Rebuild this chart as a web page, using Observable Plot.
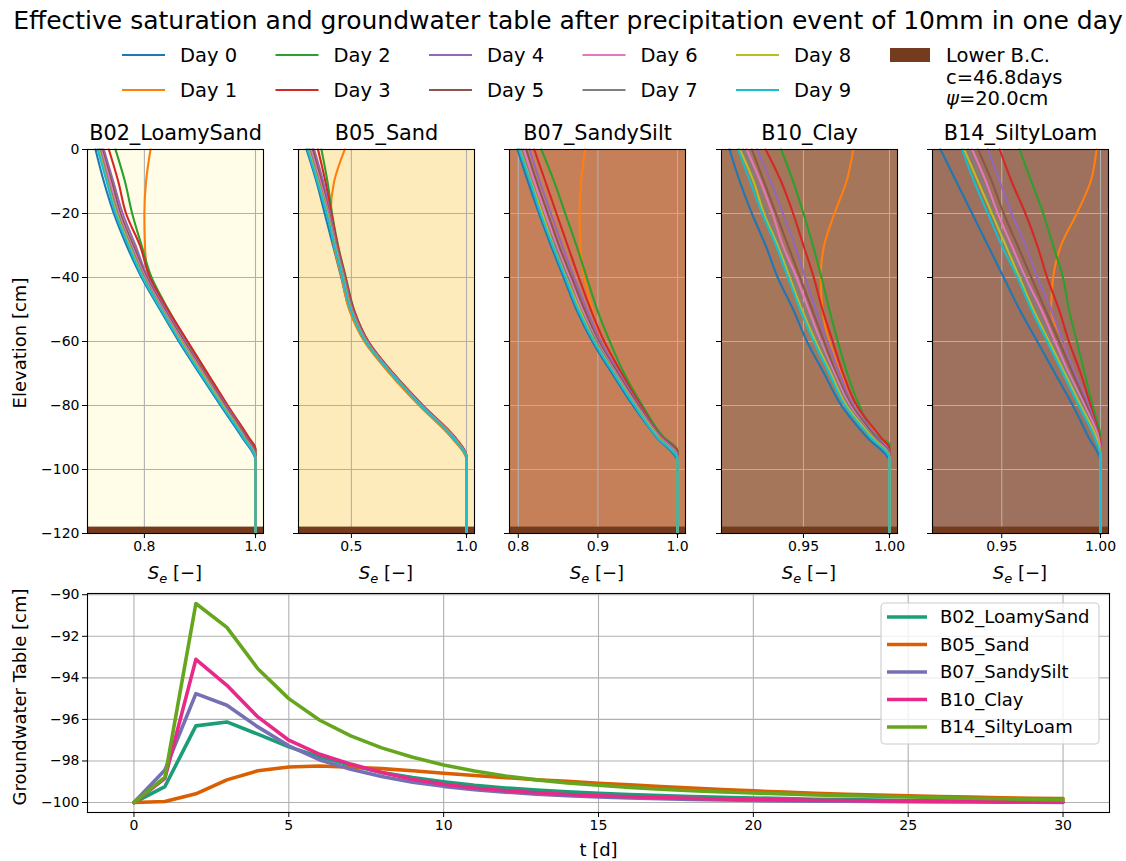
<!DOCTYPE html>
<html>
<head>
<meta charset="utf-8">
<script src="https://cdn.jsdelivr.net/npm/d3@7"></script>
<script src="https://cdn.jsdelivr.net/npm/@observablehq/plot@0.6"></script>
<style>
  body { margin: 0; background: #ffffff; }
  #chart { position: relative; width: 1126px; height: 861px; overflow: hidden; background: #ffffff; font-family: "DejaVu Sans", sans-serif; }
  #chart svg { position: absolute; overflow: visible; }
</style>
</head>
<body>
<div id="chart"></div>
<script>
// ---------- data ----------
const days = ["Day 0", "Day 1", "Day 2", "Day 3", "Day 4", "Day 5", "Day 6", "Day 7", "Day 8", "Day 9"];
const dayColors = ["#1f77b4", "#ff7f0e", "#2ca02c", "#d62728", "#9467bd", "#8c564b", "#e377c2", "#7f7f7f", "#bcbd22", "#17becf"];

const soils = ["B02_LoamySand", "B05_Sand", "B07_SandySilt", "B10_Clay", "B14_SiltyLoam"];
const soilFill = ["#fffde7", "#feebbb", "#c58059", "#a6765b", "#9d715d"];
const soilLine = ["#1b9e77", "#d95f02", "#7570b3", "#e7298a", "#66a61e"];

// elevations [cm] at which the effective saturation is tabulated
const levels = [0, -10, -20, -30, -40, -50, -60, -70, -80, -90];
const bottomElev = -120;
const lowerBC = [-120, -118];
const bcColor = "#743b1e";
const bcText = ["Lower B.C.", "c=46.8days", "=20.0cm"];

// Se per day (rows) at each level (columns); sat = elevation where Se reaches 1
const seB02 = [
  [0.712, 0.727, 0.745, 0.768, 0.795, 0.828, 0.862, 0.899, 0.937, 0.976],
  [0.811, 0.803, 0.800, 0.801, 0.807, 0.840, 0.875, 0.912, 0.948, 0.986],
  [0.748, 0.765, 0.778, 0.795, 0.813, 0.843, 0.877, 0.913, 0.949, 0.987],
  [0.736, 0.753, 0.767, 0.792, 0.810, 0.842, 0.878, 0.914, 0.950, 0.988],
  [0.727, 0.744, 0.761, 0.784, 0.806, 0.838, 0.873, 0.909, 0.947, 0.984],
  [0.724, 0.741, 0.757, 0.780, 0.804, 0.836, 0.871, 0.908, 0.945, 0.983],
  [0.722, 0.738, 0.754, 0.777, 0.802, 0.834, 0.869, 0.906, 0.943, 0.981],
  [0.720, 0.735, 0.752, 0.775, 0.800, 0.832, 0.867, 0.904, 0.942, 0.980],
  [0.718, 0.733, 0.750, 0.773, 0.798, 0.831, 0.866, 0.903, 0.941, 0.979],
  [0.716, 0.732, 0.748, 0.771, 0.797, 0.830, 0.864, 0.901, 0.939, 0.978]
];
const satB02 = [-97.2, -96.0, -93.8, -93.5, -95.3, -95.7, -96.0, -96.3, -96.5, -96.7];

const seB05 = [
  [0.305, 0.348, 0.384, 0.420, 0.456, 0.492, 0.558, 0.669, 0.797, 0.936],
  [0.471, 0.425, 0.410, 0.424, 0.458, 0.490, 0.556, 0.666, 0.794, 0.935],
  [0.370, 0.396, 0.416, 0.442, 0.476, 0.511, 0.573, 0.680, 0.808, 0.948],
  [0.355, 0.387, 0.413, 0.440, 0.474, 0.510, 0.574, 0.683, 0.811, 0.951],
  [0.338, 0.377, 0.407, 0.436, 0.471, 0.506, 0.571, 0.680, 0.808, 0.948],
  [0.331, 0.370, 0.404, 0.434, 0.469, 0.504, 0.569, 0.679, 0.807, 0.946],
  [0.324, 0.364, 0.401, 0.432, 0.467, 0.502, 0.567, 0.677, 0.805, 0.945],
  [0.318, 0.359, 0.398, 0.430, 0.465, 0.500, 0.565, 0.676, 0.804, 0.943],
  [0.313, 0.355, 0.395, 0.428, 0.463, 0.498, 0.563, 0.674, 0.802, 0.942],
  [0.309, 0.352, 0.392, 0.426, 0.461, 0.496, 0.561, 0.673, 0.801, 0.940]
];
const satB05 = [-96.8, -97.0, -96.0, -95.8, -96.0, -96.1, -96.2, -96.3, -96.4, -96.5];

const seB07 = [
  [0.799, 0.812, 0.826, 0.841, 0.857, 0.873, 0.893, 0.918, 0.944, 0.974],
  [0.884, 0.879, 0.877, 0.878, 0.883, 0.893, 0.905, 0.928, 0.953, 0.980],
  [0.829, 0.845, 0.859, 0.873, 0.886, 0.899, 0.915, 0.933, 0.956, 0.983],
  [0.820, 0.834, 0.848, 0.862, 0.876, 0.891, 0.908, 0.930, 0.954, 0.981],
  [0.814, 0.827, 0.841, 0.855, 0.870, 0.886, 0.904, 0.927, 0.952, 0.980],
  [0.810, 0.823, 0.837, 0.851, 0.867, 0.883, 0.901, 0.925, 0.951, 0.979],
  [0.807, 0.820, 0.834, 0.848, 0.864, 0.880, 0.899, 0.923, 0.949, 0.978],
  [0.804, 0.817, 0.831, 0.846, 0.862, 0.878, 0.898, 0.922, 0.948, 0.977],
  [0.802, 0.816, 0.830, 0.844, 0.860, 0.877, 0.896, 0.921, 0.947, 0.976],
  [0.801, 0.815, 0.828, 0.843, 0.859, 0.875, 0.895, 0.920, 0.946, 0.975]
];
const satB07 = [-97.5, -95.5, -94.0, -94.6, -95.2, -95.6, -96.0, -96.3, -96.6, -96.8];

const seB10 = [
  [0.907, 0.913, 0.920, 0.928, 0.935, 0.944, 0.952, 0.962, 0.972, 0.987],
  [0.979, 0.975, 0.968, 0.962, 0.960, 0.961, 0.965, 0.972, 0.979, 0.994],
  [0.937, 0.944, 0.950, 0.9555, 0.9605, 0.965, 0.970, 0.9755, 0.9825, 0.9935],
  [0.928, 0.937, 0.944, 0.950, 0.956, 0.961, 0.967, 0.973, 0.981, 0.995],
  [0.923, 0.931, 0.938, 0.945, 0.951, 0.957, 0.964, 0.971, 0.979, 0.993],
  [0.920, 0.927, 0.934, 0.941, 0.948, 0.955, 0.962, 0.969, 0.978, 0.992],
  [0.917, 0.925, 0.932, 0.938, 0.946, 0.953, 0.960, 0.968, 0.977, 0.991],
  [0.915, 0.923, 0.929, 0.936, 0.944, 0.951, 0.959, 0.967, 0.976, 0.991],
  [0.913, 0.921, 0.927, 0.935, 0.942, 0.949, 0.957, 0.966, 0.975, 0.990],
  [0.912, 0.919, 0.926, 0.934, 0.941, 0.948, 0.956, 0.965, 0.974, 0.989]
];
const satB10 = [-97.5, -95.0, -92.0, -93.5, -94.8, -95.3, -95.7, -96.0, -96.3, -96.5];

const seB14 = [
  [0.919, 0.927, 0.935, 0.943, 0.951, 0.959, 0.968, 0.977, 0.986, 0.994],
  [0.998, 0.995, 0.988, 0.980, 0.976, 0.975, 0.981, 0.987, 0.994, 0.999],
  [0.959, 0.965, 0.971, 0.976, 0.981, 0.984, 0.988, 0.992, 0.996, 1.000],
  [0.949, 0.955, 0.962, 0.968, 0.973, 0.979, 0.984, 0.990, 0.995, 0.9995],
  [0.943, 0.949, 0.955, 0.962, 0.968, 0.975, 0.981, 0.987, 0.994, 0.999],
  [0.938, 0.945, 0.951, 0.958, 0.965, 0.972, 0.979, 0.986, 0.993, 0.999],
  [0.935, 0.942, 0.948, 0.955, 0.962, 0.970, 0.977, 0.984, 0.992, 0.999],
  [0.933, 0.940, 0.946, 0.953, 0.961, 0.968, 0.975, 0.983, 0.991, 0.998],
  [0.931, 0.938, 0.945, 0.952, 0.959, 0.966, 0.974, 0.982, 0.990, 0.998],
  [0.930, 0.936, 0.943, 0.950, 0.958, 0.965, 0.973, 0.981, 0.989, 0.997]
];
const satB14 = [-97.5, -95.0, -90.0, -92.0, -93.5, -94.5, -95.0, -95.5, -95.8, -96.0];

const seSets = [seB02, seB05, seB07, seB10, seB14];
const satSets = [satB02, satB05, satB07, satB10, satB14];

const xTicks = [[0.8, 1.0], [0.5, 1.0], [0.8, 0.9, 1.0], [0.95, 1.0], [0.95, 1.0]];
const xTickLabels = [["0.8", "1.0"], ["0.5", "1.0"], ["0.8", "0.9", "1.0"], ["0.95", "1.00"], ["0.95", "1.00"]];
const elevTicks = [0, -20, -40, -60, -80, -100, -120];

// groundwater table [cm] per day
const tDays = [0, 1, 2, 3, 4, 5, 6, 7, 8, 9, 10, 11, 12, 13, 14, 15, 16, 17, 18, 19, 20, 21, 22, 23, 24, 25, 26, 27, 28, 29, 30];
const gwB02 = [-100, -99.23, -96.31, -96.12, -96.71, -97.32, -97.80, -98.20, -98.55, -98.80, -99.00, -99.17, -99.30, -99.40, -99.48, -99.55, -99.61, -99.66, -99.71, -99.75, -99.78, -99.81, -99.84, -99.86, -99.88, -99.90, -99.92, -99.93, -99.94, -99.95, -99.96];
const gwB05 = [-100, -99.95, -99.58, -98.91, -98.47, -98.29, -98.24, -98.30, -98.37, -98.47, -98.59, -98.70, -98.80, -98.90, -98.98, -99.07, -99.15, -99.23, -99.30, -99.37, -99.44, -99.50, -99.55, -99.60, -99.64, -99.68, -99.71, -99.74, -99.77, -99.79, -99.81];
const gwB07 = [-100, -98.43, -94.76, -95.32, -96.36, -97.27, -97.95, -98.40, -98.75, -99.02, -99.22, -99.38, -99.50, -99.60, -99.67, -99.73, -99.78, -99.82, -99.85, -99.88, -99.90, -99.92, -99.93, -99.94, -99.95, -99.96, -99.97, -99.97, -99.98, -99.98, -99.99];
const gwB10 = [-100, -98.83, -93.11, -94.36, -95.88, -97.00, -97.68, -98.15, -98.55, -98.88, -99.12, -99.30, -99.43, -99.53, -99.61, -99.67, -99.72, -99.76, -99.80, -99.83, -99.85, -99.87, -99.89, -99.90, -99.92, -99.93, -99.94, -99.95, -99.96, -99.96, -99.97];
const gwB14 = [-100, -98.78, -90.42, -91.57, -93.56, -95.00, -96.04, -96.79, -97.37, -97.82, -98.19, -98.48, -98.72, -98.91, -99.06, -99.17, -99.27, -99.36, -99.43, -99.49, -99.54, -99.59, -99.63, -99.67, -99.70, -99.73, -99.76, -99.79, -99.82, -99.85, -99.87];
const gwSets = [gwB02, gwB05, gwB07, gwB10, gwB14];
const tTicks = [0, 5, 10, 15, 20, 25, 30];
const gwTicks = [-100, -98, -96, -94, -92, -90];

// ---------- layout ----------
const chart = document.getElementById("chart");
const font = "DejaVu Sans, sans-serif";
const baseStyle = { fontFamily: font, fontSize: "14px", color: "black", background: "transparent", overflow: "visible" };
const gridStyle = { stroke: "#b0b0b0", strokeOpacity: 1, strokeWidth: 1.1 };

// rotated axis title drawn into an svg
function sideLabel(svg, text, x, y) {
  d3.select(svg).append("text")
    .attr("transform", `translate(${x},${y}) rotate(-90)`)
    .attr("text-anchor", "middle").attr("dy", "0.36em")
    .attr("font-family", font).attr("font-size", 18).attr("fill", "black")
    .text(text);
}

const panelLeft = [87, 298, 509, 721, 932];
const frameW = 176, frameH = 384, panelTop = 110, mT = 39, mB = 57;

soils.forEach((soil, k) => {
  const se = seSets[k], sat = satSets[k];
  const rows = [];
  days.forEach((day, d) => {
    levels.forEach((z, j) => { if (z > sat[d]) rows.push({ day, se: se[d][j], elev: z }); });
    rows.push({ day, se: 1, elev: sat[d] });
    rows.push({ day, se: 1, elev: bottomElev });
  });
  const lo = d3.min(rows, r => r.se), hi = d3.max(rows, r => r.se), pad = (hi - lo) * 0.05;
  const labelMap = new Map(xTicks[k].map((v, i) => [v, xTickLabels[k][i]]));
  const mL = k === 0 ? 87 : 30, mR = 10;
  const first = k === 0;

  const plot = Plot.plot({
    width: mL + frameW + mR, height: mT + frameH + mB,
    marginLeft: mL, marginRight: mR, marginTop: mT, marginBottom: mB,
    x: { domain: [lo - pad, hi + pad] },
    y: { domain: [bottomElev, 0] },
    color: { domain: days, range: dayColors },
    style: baseStyle,
    marks: [
      Plot.frame({ fill: soilFill[k], stroke: "none" }),
      Plot.gridX({ ticks: xTicks[k], ...gridStyle }),
      Plot.gridY({ ticks: elevTicks, ...gridStyle }),
      Plot.rect([lowerBC], { x1: lo - pad, x2: hi + pad, y1: d => d[0], y2: d => d[1], fill: bcColor }),
      Plot.line(rows, { x: "se", y: "elev", z: "day", stroke: "day", strokeWidth: 2.1, curve: "monotone-y" }),
      Plot.frame({ stroke: "black", strokeWidth: 1.1 }),
      Plot.axisX({ ticks: xTicks[k], tickFormat: v => labelMap.get(v), tickSize: 5, tickPadding: 3, label: null }),
      first
        ? Plot.axisY({ ticks: elevTicks, tickSize: 5, tickPadding: 3, label: null })
        : Plot.axisY({ ticks: elevTicks, tickSize: 5, label: null, fill: "none" }),
      Plot.text([soil], { frameAnchor: "top", lineAnchor: "middle", dy: -16, text: d => d, fontSize: 20.8 })
    ]
  });
  plot.style.left = (panelLeft[k] - mL) + "px";
  plot.style.top = panelTop + "px";
  if (first) sideLabel(plot, "Elevation [cm]", 20, 343 - panelTop);
  // x label: S_e [−]
  const lab = d3.select(plot).append("text")
    .attr("x", mL + frameW / 2).attr("y", mT + frameH + 46)
    .attr("text-anchor", "middle").attr("font-size", 18).attr("font-family", font).attr("fill", "black");
  lab.append("tspan").attr("font-style", "italic").text("S");
  lab.append("tspan").attr("font-size", 13).attr("font-style", "italic").attr("dy", 4).text("e");
  lab.append("tspan").attr("dy", -4).text(" [\u2212]");
  chart.appendChild(plot);
});

// ---------- groundwater table over time ----------
const gwRows = [];
soils.forEach((s, k) => tDays.forEach((t, i) => gwRows.push({ soil: s, t, gw: gwSets[k][i] })));
const tLo = d3.min(tDays), tHi = d3.max(tDays), tPad = (tHi - tLo) * 0.05;
const gLo = d3.min(gwRows, r => r.gw), gHi = d3.max(gwRows, r => r.gw), gPad = (gHi - gLo) * 0.05;
const gwTop = 575;

const gwPlot = Plot.plot({
  width: 1126, height: 287,
  marginLeft: 87, marginRight: 17, marginTop: 18, marginBottom: 50,
  x: { domain: [tLo - tPad, tHi + tPad] },
  y: { domain: [gLo - gPad, gHi + gPad] },
  color: { domain: soils, range: soilLine },
  style: baseStyle,
  marks: [
    Plot.gridX({ ticks: tTicks, ...gridStyle }),
    Plot.gridY({ ticks: gwTicks, ...gridStyle }),
    Plot.line(gwRows, { x: "t", y: "gw", z: "soil", stroke: "soil", strokeWidth: 3.6 }),
    Plot.frame({ stroke: "black", strokeWidth: 1.1 }),
    Plot.axisX({ ticks: tTicks, tickSize: 5, tickPadding: 3, label: null }),
    Plot.axisY({ ticks: gwTicks, tickSize: 5, tickPadding: 3, label: null }),
    Plot.text(["t [d]"], { frameAnchor: "bottom", lineAnchor: "middle", dy: 38, text: d => d, fontSize: 18 })
  ]
});
gwPlot.style.left = "0px";
gwPlot.style.top = gwTop + "px";
sideLabel(gwPlot, "Groundwater Table [cm]", 20, 697 - gwTop);
{
  const g = d3.select(gwPlot).append("g").attr("font-family", font).attr("font-size", 18).attr("text-anchor", "start");
  g.append("rect").attr("x", 881).attr("y", 28).attr("width", 218).attr("height", 141).attr("rx", 4)
    .attr("fill", "white").attr("fill-opacity", 0.8).attr("stroke", "#cccccc").attr("stroke-width", 1.1);
  soils.forEach((s, k) => {
    const y = 42 + k * 27.5;
    g.append("line").attr("x1", 887).attr("x2", 927).attr("y1", y).attr("y2", y)
      .attr("stroke", soilLine[k]).attr("stroke-width", 3.6);
    g.append("text").attr("x", 940).attr("y", y).attr("dy", "0.36em").attr("text-anchor", "start")
      .attr("fill", "black").text(s);
  });
}
chart.appendChild(gwPlot);

// ---------- title and day legend ----------
const header = d3.select(chart).append("svg").attr("width", 1126).attr("height", 110)
  .style("left", "0px").style("top", "0px").attr("font-family", font);
header.append("text").attr("x", 568).attr("y", 20).attr("dy", "0.36em").attr("text-anchor", "middle")
  .attr("font-size", 25).attr("fill", "black")
  .text("Effective saturation and groundwater table after precipitation event of 10mm in one day");
days.forEach((day, i) => {
  const x0 = 122 + Math.floor(i / 2) * 153.5, y = 55 + (i % 2) * 35;
  header.append("line").attr("x1", x0).attr("x2", x0 + 43).attr("y1", y).attr("y2", y)
    .attr("stroke", dayColors[i]).attr("stroke-width", 2.1);
  header.append("text").attr("x", x0 + 58).attr("y", y).attr("dy", "0.36em").attr("font-size", 19.5)
    .attr("fill", "black").text(day);
});
header.append("rect").attr("x", 890).attr("y", 48).attr("width", 40).attr("height", 14).attr("fill", bcColor);
[55, 76.5, 98].forEach((y, i) => {
  const t = header.append("text").attr("x", 946).attr("y", y).attr("dy", "0.36em").attr("font-size", 19.5).attr("fill", "black");
  if (i === 2) t.append("tspan").attr("font-style", "italic").text("\u03c8");
  t.append("tspan").text(bcText[i]);
});
</script>
</body>
</html>
